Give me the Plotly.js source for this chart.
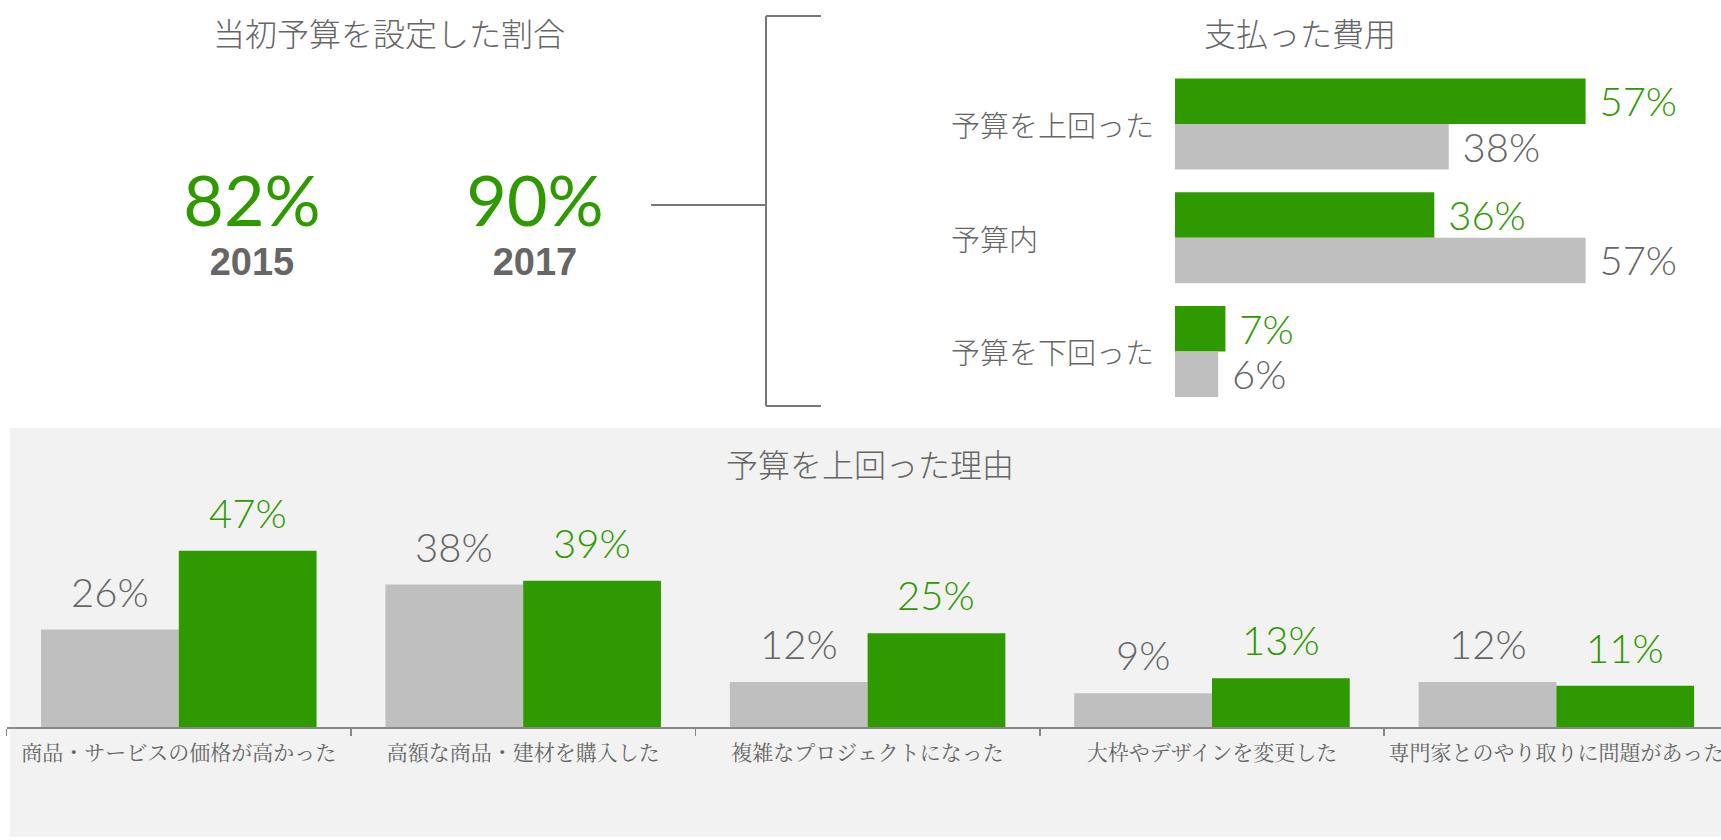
<!DOCTYPE html>
<html>
<head>
<meta charset="utf-8">
<script src="https://cdn.plot.ly/plotly-3.0.1.min.js"></script>
<style>
  html, body { margin: 0; padding: 0; background: #fff; }
</style>
</head>
<body>
<div id="myPlot"></div>
<script>
const myPlot = document.getElementById('myPlot');

/**
 * Data
 */
const years = ['2015', '2017'];
const budgetSetShare = [82, 90];

const costCategories = ['予算を上回った', '予算内', '予算を下回った'];
const cost2017 = [57, 36, 7];
const cost2015 = [38, 57, 6];

const reasonCategories = [
  '商品・サービスの価格が高かった',
  '高額な商品・建材を購入した',
  '複雑なプロジェクトになった',
  '大枠やデザインを変更した',
  '専門家とのやり取りに問題があった'
];
const reason2015 = [26, 38, 12, 9, 12];
const reason2017 = [47, 39, 25, 13, 11];

/**
 * Look
 */
const W = 1721;
const H = 840;
const px = (v) => v / W;
const py = (v) => 1 - v / H;

const GREEN = '#2e9a00';
const GRAY = '#bfbfbf';
const TEXT = '#666666';
const CJK = '"Noto Sans CJK JP", "Noto Sans", sans-serif';
const CJK_SERIF = '"Noto Serif CJK JP", "Noto Sans CJK JP", serif';
const NUM = 'Lato, "Open Sans", sans-serif';

const BARGAP = 0.2;
const reasonLeft = 6.6;              // px, left end of the reasons axis
const reasonSpan = 4.978;            // categories shown across the axis
const reasonPitch = (W - reasonLeft) / reasonSpan;
const halfBar = reasonPitch * (1 - BARGAP) / 4;

const hidden = { visible: false, showgrid: false, zeroline: false, fixedrange: true };

/**
 * Traces
 */
const shareTrace = {
  type: 'scatter',
  mode: 'text',
  x: years,
  y: years.map(() => 0.504),
  text: budgetSetShare.map(v => v + '%'),
  textposition: 'middle center',
  textfont: { family: NUM, size: 70, color: GREEN },
  xaxis: 'x3',
  yaxis: 'y3',
  hoverinfo: 'skip'
};

const yearTrace = {
  type: 'scatter',
  mode: 'text',
  x: years,
  y: years.map(() => 0.367),
  text: years,
  textposition: 'middle center',
  textfont: { family: '"Liberation Sans", Arial, sans-serif', size: 38, color: TEXT, weight: 'bold' },
  xaxis: 'x3',
  yaxis: 'y3',
  hoverinfo: 'skip'
};

const costBar = (values, color, textColor, name) => ({
  type: 'bar',
  orientation: 'h',
  name: name,
  y: costCategories,
  x: values,
  marker: { color: color },
  texttemplate: '\u00a0%{x}%',
  textposition: 'outside',
  constraintext: 'none',
  cliponaxis: false,
  textfont: { family: NUM, size: 40, color: textColor, weight: 300 },
  xaxis: 'x2',
  yaxis: 'y2'
});

const reasonBar = (values, color, name) => ({
  type: 'bar',
  name: name,
  x: reasonCategories,
  y: values,
  marker: { color: color },
  hoverinfo: 'skip'
});

const data = [
  shareTrace,
  yearTrace,
  costBar(cost2017, GREEN, GREEN, years[1]),
  costBar(cost2015, GRAY, TEXT, years[0]),
  reasonBar(reason2015, GRAY, years[0]),
  reasonBar(reason2017, GREEN, years[1])
];

/**
 * Layout
 */
const titleFont = { family: CJK, size: 32, color: TEXT, weight: 300 };

const annotations = [
  { text: '当初予算を設定した割合', x: px(389), y: py(32) },
  { text: '支払った費用', x: px(1300), y: py(32) },
  { text: '予算を上回った理由', x: px(870), y: py(463) }
].map(a => Object.assign({
  xref: 'paper', yref: 'paper', xanchor: 'center', yanchor: 'middle',
  showarrow: false, font: titleFont
}, a));

costCategories.forEach(c => {
  annotations.push({
    text: c, xref: 'paper', yref: 'y2', x: px(949), y: c,
    xanchor: 'left', yanchor: 'middle', showarrow: false,
    font: { family: CJK, size: 29, color: TEXT, weight: 300 }
  });
});

// value labels above the reason bars (gray on the left, green on the right)
const reasonLabel = (values, color, side) => values.map((v, i) => ({
  text: v + '%', x: reasonCategories[i], y: v, xref: 'x', yref: 'y',
  xshift: side * halfBar, yshift: 12,
  xanchor: 'center', yanchor: 'bottom', showarrow: false,
  font: { family: NUM, size: 40, color: color, weight: 300 }
}));
annotations.push(...reasonLabel(reason2015, TEXT, -1), ...reasonLabel(reason2017, GREEN, 1));

const bracket = { type: 'line', xref: 'paper', yref: 'paper', line: { color: '#777777', width: 2 } };

const shapes = [
  {
    type: 'rect', xref: 'paper', yref: 'paper', layer: 'below',
    x0: px(10), x1: 1, y0: py(837), y1: py(428),
    fillcolor: '#f2f2f2', line: { width: 0 }
  },
  Object.assign({ x0: px(651), x1: px(766), y0: py(205), y1: py(205) }, bracket),
  Object.assign({ x0: px(766), x1: px(766), y0: py(16), y1: py(406) }, bracket),
  Object.assign({ x0: px(766), x1: px(821), y0: py(16), y1: py(16) }, bracket),
  Object.assign({ x0: px(766), x1: px(821), y0: py(406), y1: py(406) }, bracket)
];

const layout = {
  width: W,
  height: H,
  margin: { l: 0, r: 0, t: 0, b: 0 },
  paper_bgcolor: '#ffffff',
  plot_bgcolor: 'rgba(0,0,0,0)',
  showlegend: false,
  barmode: 'group',
  bargap: BARGAP,
  bargroupgap: 0,
  xaxis: {
    domain: [px(reasonLeft), 1],
    type: 'category',
    range: [-0.5, reasonSpan - 0.5],
    tickson: 'boundaries',
    ticks: 'outside',
    ticklen: 7,
    tickwidth: 1.5,
    tickcolor: '#888888',
    showline: true,
    linecolor: '#888888',
    linewidth: 2,
    showgrid: false,
    ticklabelstandoff: 6,
    tickfont: { family: CJK_SERIF, size: 21, color: TEXT },
    fixedrange: true
  },
  yaxis: Object.assign({ domain: [py(727), py(480)], range: [0, 65.87] }, hidden),
  xaxis2: Object.assign({ domain: [px(1175), 1], range: [0, 75.8], anchor: 'y2' }, hidden),
  yaxis2: Object.assign({ domain: [py(408.4), py(67)], type: 'category', range: [2.5, -0.5], anchor: 'x2' }, hidden),
  xaxis3: Object.assign({ domain: [px(110.5), px(676.5)], type: 'category', range: [-0.5, 1.5], anchor: 'y3' }, hidden),
  yaxis3: Object.assign({ domain: [0.5, 1], range: [0, 1], anchor: 'x3' }, hidden),
  annotations: annotations,
  shapes: shapes
};

Plotly.newPlot(myPlot, data, layout, { displayModeBar: false, staticPlot: true });
</script>
</body>
</html>
